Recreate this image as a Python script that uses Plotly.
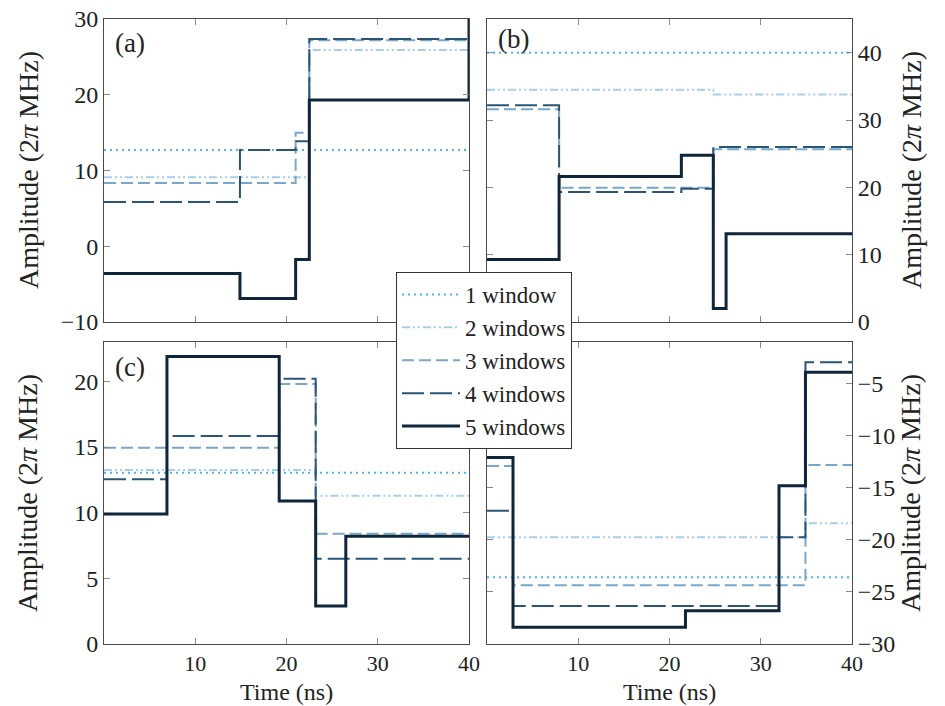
import plotly.graph_objects as go

# ---------------- data ----------------
series_names = ["1 window", "2 windows", "3 windows", "4 windows", "5 windows"]

# panel (a): window start times (ns) and amplitudes; last point at t=40
a_t = [
    [0, 40],
    [0, 22.5, 40],
    [0, 21.0, 22.5, 40],
    [0, 14.9, 21.0, 22.5, 40],
    [0, 14.9, 21.0, 22.5, 40],
]
a_v = [
    [12.7, 12.7],
    [9.1, 25.9, 25.9],
    [8.35, 15.0, 27.2, 27.2],
    [5.85, 12.7, 13.85, 27.35, 27.35],
    [-3.6, -6.9, -1.75, 19.3, 35.0],
]

# panel (b)
b_t = [
    [0, 40],
    [0, 24.8, 40],
    [0, 7.9, 24.8, 40],
    [0, 7.9, 21.3, 24.8, 40],
    [0, 7.9, 21.3, 24.8, 26.2, 40],
]
b_v = [
    [40.0, 40.0],
    [34.5, 33.8, 33.8],
    [31.6, 19.95, 25.65, 25.65],
    [32.2, 19.3, 19.8, 26.0, 26.0],
    [9.3, 21.6, 24.75, 2.0, 13.1, 13.1],
]

# panel (c)
c_t = [
    [0, 40],
    [0, 23.2, 40],
    [0, 19.2, 23.2, 40],
    [0, 6.9, 19.2, 23.2, 40],
    [0, 6.9, 19.2, 23.2, 26.5, 40],
]
c_v = [
    [13.05, 13.05],
    [13.25, 11.3, 11.3],
    [14.95, 19.8, 8.4, 8.4],
    [12.55, 15.85, 20.2, 6.5, 6.5],
    [9.9, 21.9, 10.9, 2.9, 8.2, 8.2],
]

# panel (d)
d_t = [
    [0, 40],
    [0, 34.9, 40],
    [0, 2.85, 34.9, 40],
    [0, 2.85, 32.0, 34.9, 40],
    [0, 2.85, 21.75, 32.0, 34.9, 40],
]
d_v = [
    [-23.6, -23.6],
    [-19.75, -18.4, -18.4],
    [-12.9, -24.35, -12.8, -12.8],
    [-17.2, -26.35, -19.75, -2.95, -2.95],
    [-12.1, -28.4, -26.8, -14.8, -3.9, -3.9],
]

x_ticks = [10, 20, 30, 40]
a_yticks = [-10, 0, 10, 20, 30]
b_yticks = [0, 10, 20, 30, 40]
c_yticks = [0, 5, 10, 15, 20]
d_yticks = [-30, -25, -20, -15, -10, -5]

# ---------------- styles ----------------
colors = ["#4fb4f2", "#a8cfea", "#79a6c9", "#2b5576", "#0f263a"]
dashes = ["2px,4px", "8px,3px,2px,3px,2px,3px", "12px,5px", "22px,6px", "solid"]
widths = [2, 2, 2, 2, 3]

FONT = "Liberation Serif"
W, H = 945, 706

fig = go.Figure()

panels = [(a_t, a_v, "x", "y"), (b_t, b_v, "x2", "y2"),
          (c_t, c_v, "x3", "y3"), (d_t, d_v, "x4", "y4")]
for p, (ts, vs, xa, ya) in enumerate(panels):
    for i in range(5):
        fig.add_trace(go.Scatter(
            x=ts[i], y=vs[i], mode="lines", line_shape="hv",
            line=dict(color=colors[i], width=widths[i], dash=dashes[i]),
            name=series_names[i], showlegend=(p == 0),
            xaxis=xa, yaxis=ya, hoverinfo="skip"))

def px_x(px):
    return px / W

def px_y(py):
    return 1 - py / H

left_dom = [px_x(104), px_x(469)]
right_dom = [px_x(487), px_x(852)]
top_dom = [px_y(322), px_y(19)]
bot_dom = [px_y(644), px_y(342)]

axis_common = dict(showline=True, mirror="ticks", linecolor="#4a4a4a", linewidth=1,
                   ticks="inside", ticklen=6, tickcolor="#8a8a8a", tickwidth=1,
                   showgrid=False, zeroline=False, automargin=False,
                   tickfont=dict(family=FONT, size=24, color="#222"))
xaxis_bottom = dict(axis_common, tickfont=dict(family=FONT, size=22, color="#222"))

fig.update_layout(
    width=W, height=H, margin=dict(l=0, r=0, t=0, b=0, pad=0),
    paper_bgcolor="white", plot_bgcolor="white",
    xaxis=dict(domain=left_dom, range=[0, 40], tickvals=x_ticks, showticklabels=False,
               anchor="y", **axis_common),
    yaxis=dict(domain=top_dom, range=[-10, 30], tickvals=a_yticks, anchor="x", **axis_common),
    xaxis2=dict(domain=right_dom, range=[0, 40], tickvals=x_ticks, showticklabels=False,
                anchor="y2", **axis_common),
    yaxis2=dict(domain=top_dom, range=[0, 45], tickvals=b_yticks, side="right",
                anchor="x2", **axis_common),
    xaxis3=dict(domain=left_dom, range=[0, 40], tickvals=x_ticks, anchor="y3", **xaxis_bottom),
    yaxis3=dict(domain=bot_dom, range=[0, 23], tickvals=c_yticks, anchor="x3", **axis_common),
    xaxis4=dict(domain=right_dom, range=[0, 40], tickvals=x_ticks, anchor="y4", **xaxis_bottom),
    yaxis4=dict(domain=bot_dom, range=[-30, -1], tickvals=d_yticks, side="right",
                anchor="x4", **axis_common),
    legend=dict(x=px_x(396), y=px_y(272), xanchor="left", yanchor="top",
                bgcolor="white", bordercolor="#333", borderwidth=1,
                font=dict(family=FONT, size=23, color="#222"),
                tracegroupgap=0, itemwidth=58),
    showlegend=True,
)

ytitle = "Amplitude (2<i>π</i> MHz)"
ann = []
for (xp, yp) in [(28, 170), (28, 493)]:
    ann.append(dict(x=px_x(xp), y=px_y(yp), xref="paper", yref="paper", text=ytitle,
                    textangle=-90, showarrow=False, xanchor="center", yanchor="middle",
                    font=dict(family=FONT, size=28, color="#222")))
for (xp, yp) in [(911, 170), (911, 493)]:
    ann.append(dict(x=px_x(xp), y=px_y(yp), xref="paper", yref="paper", text=ytitle,
                    textangle=-90, showarrow=False, xanchor="center", yanchor="middle",
                    font=dict(family=FONT, size=28, color="#222")))
for xp in [286.5, 669.5]:
    ann.append(dict(x=px_x(xp), y=0, xref="paper", yref="paper", text="Time (ns)",
                    showarrow=False, xanchor="center", yanchor="bottom", borderpad=0,
                    font=dict(family=FONT, size=24, color="#222")))
for lab, xp, yp in [("(a)", 113, 43), ("(b)", 496, 39), ("(c)", 113, 367)]:
    ann.append(dict(x=px_x(xp), y=px_y(yp), xref="paper", yref="paper", text=lab,
                    showarrow=False, xanchor="left", yanchor="middle",
                    font=dict(family=FONT, size=27, color="#222")))
fig.update_layout(annotations=ann)

fig.write_html("out.html")
